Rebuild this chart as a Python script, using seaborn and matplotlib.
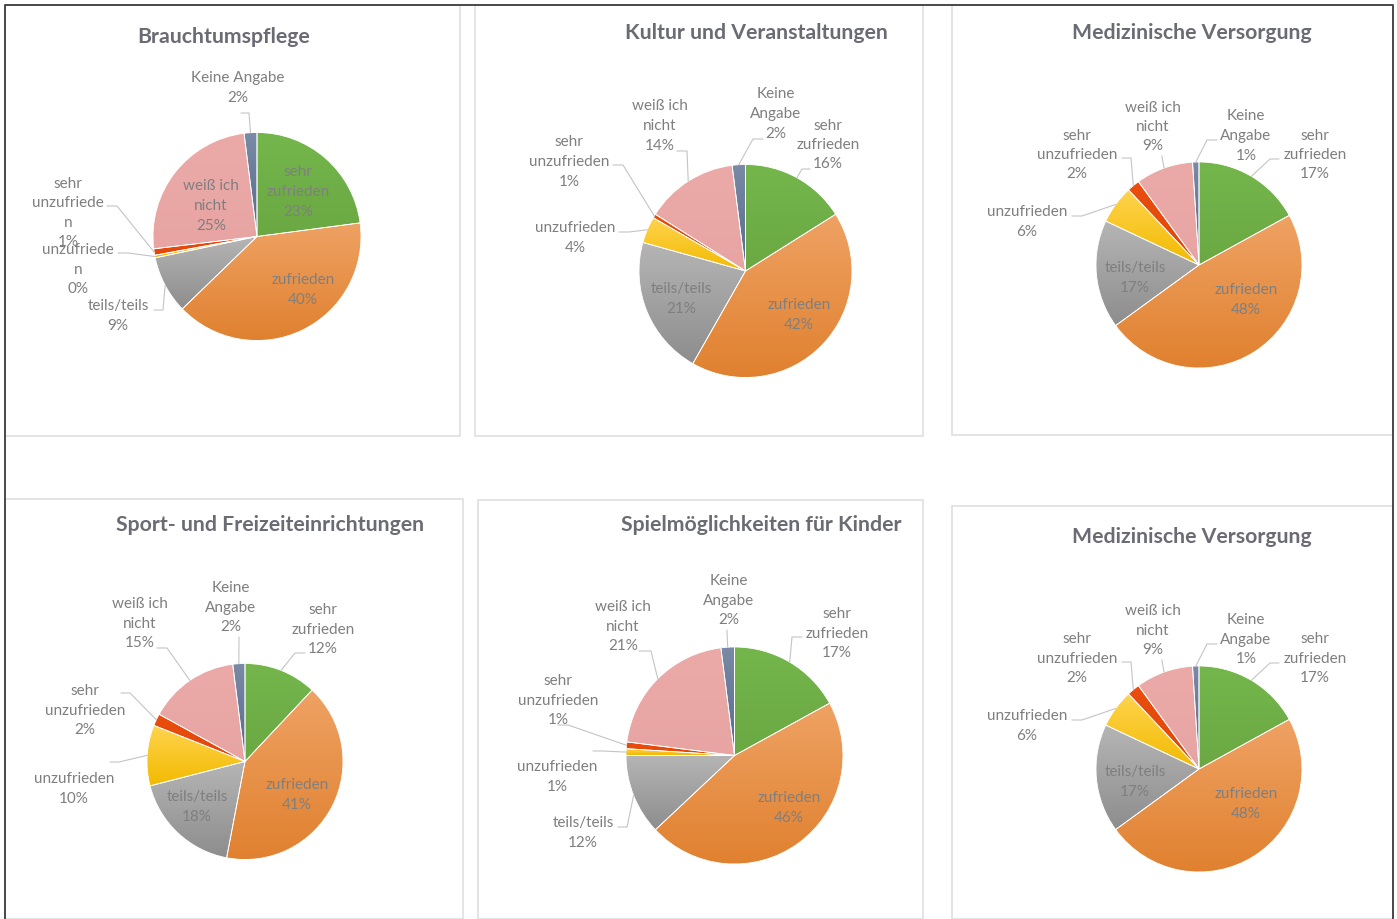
import textwrap
import numpy as np
import matplotlib.pyplot as plt
from matplotlib.patches import Rectangle
import seaborn as sns

# answer categories (same order in every chart, clockwise from 12 o'clock)
categories = ["sehr zufrieden", "zufrieden", "teils/teils", "unzufrieden",
              "sehr unzufrieden", "weiß ich nicht", "Keine Angabe"]

titles = ["Brauchtumspflege", "Kultur und Veranstaltungen", "Medizinische Versorgung",
          "Sport- und Freizeiteinrichtungen", "Spielmöglichkeiten für Kinder",
          "Medizinische Versorgung"]

# shares in percent
brauchtum = [23, 40, 9, 0.4, 1, 25, 2]
kultur = [16, 42, 21, 4, 0.6, 14, 2]
medizin = [17, 48, 17, 6, 2, 9, 1]
sport = [12, 41, 18, 10, 2, 15, 2]
spiel = [17, 46, 12, 1, 1, 21, 2]

series = [brauchtum, kultur, medizin, sport, spiel, medizin]

# excel-like gradient fills (top, bottom)
fills = [("#74B64C", "#6BA843"), ("#EFA264", "#E0812F"), ("#B5B5B5", "#8D8D8D"),
         ("#FFD44F", "#F2BA00"), ("#EA4E0E", "#E2470A"), ("#EBAAA8", "#E7A4A3"),
         ("#7A8AA6", "#556A8B")]

W, H = 1397, 920

# ---- layout in pixel coordinates (y downwards) ----
pies = [(257, 237.5, 104), (745.5, 272, 106.5), (1199, 266, 103),
        (245, 762.5, 98), (734.5, 756.5, 108.5), (1199, 770, 103)]
title_pos = [(224, 37), (756, 33), (1192, 33), (270, 525), (761, 525), (1192, 537)]
frames = [(5, 6, 460, 437), (475, 6, 923, 437), (952, 6, 1393, 436),
          (5, 500, 463, 920), (478, 501, 923, 920), (952, 507, 1393, 920)]

# per label: text x, text y, wrap width, leader (start, elbow) or None for inside
med_top = [(1315, 155, 10, [(1279, 160), (1270, 160)]),
           (1246, 300, 10, None),
           (1135, 278, 12, None),
           (1027, 222, 12, [(1072, 217), (1082, 217)]),
           (1077, 155, 12, [(1122, 159), (1131, 159)]),
           (1153, 127, 9, [(1162, 157), (1162, 158)]),
           (1246, 136, 10, [(1217, 141), (1207, 141)])]
med_bottom = [(x, y + 504, w, None if ld is None else [(a, b + 504) for a, b in ld])
              for x, y, w, ld in med_top]

labels = [
    [(298, 192, 10, None),
     (303, 290, 10, None),
     (118, 316, 12, [(154, 311), (163, 311)]),
     (78, 270, 10, [(118, 254), (128, 254)]),
     (68, 213, 10, [(107, 207), (117, 207)]),
     (211, 206, 9, None),
     (238, 88, 12, [(241, 114), (249, 114)])],
    [(828, 145, 10, [(810, 170), (802, 170)]),
     (799, 315, 10, None),
     (681, 299, 12, None),
     (575, 238, 12, [(619, 233), (629, 233)]),
     (569, 162, 12, [(613, 166), (623, 166)]),
     (660, 126, 9, [(677, 152), (687, 152)]),
     (776, 114, 10, [(763, 140), (753, 140)])],
    med_top,
    [(323, 630, 10, [(305, 654), (295, 654)]),
     (297, 795, 10, None),
     (197, 807, 12, None),
     (74, 789, 12, [(110, 763), (119, 763)]),
     (85, 711, 12, [(121, 694), (130, 694)]),
     (140, 624, 9, [(157, 649), (167, 649)]),
     (231, 608, 10, [(239, 638), (239, 639)])],
    [(837, 634, 10, [(802, 638), (792, 638)]),
     (789, 808, 10, None),
     (583, 833, 12, [(618, 828), (627, 828)]),
     (557, 777, 12, [(593, 752), (603, 752)]),
     (558, 701, 12, [(558, 726), (568, 726)]),
     (623, 627, 9, [(639, 652), (651, 652)]),
     (729, 601, 10, [(727, 631), (727, 632)])],
    med_bottom,
]


def excel_wrap(text, width):
    """wrap on spaces first, then cut words that are still too long (like excel does)"""
    lines = []
    for line in textwrap.wrap(text, width, break_long_words=False):
        while len(line) > width:
            lines.append(line[:width])
            line = line[width:]
        lines.append(line)
    return "\n".join(lines)


sns.set_theme(style="white")
plt.rcParams['font.family'] = ['Lato', 'DejaVu Sans']

LABEL_COLOR = "#7f7f7f"
TITLE_COLOR = "#6b6b74"
LEADER_COLOR = "#c4c4c8"

fig = plt.figure(figsize=(W / 100, H / 100), dpi=100)
ax = fig.add_axes([0, 0, 1, 1])

cmaps = [sns.blend_palette(list(f), as_cmap=True) for f in fills]
grad = np.linspace(0, 1, 256).reshape(-1, 1)

for values, title, (cx, cy, r), (tx, ty), lay in zip(series, titles, pies, title_pos, labels):
    # y axis is inverted, so start at -90 and go "counterclock" -> clockwise from top on screen
    wedges, _ = ax.pie(values, startangle=-90, counterclock=True, center=(cx, cy),
                       radius=r, colors=[f[0] for f in fills],
                       wedgeprops=dict(edgecolor="white", linewidth=0.6))
    for w, cmap, v, cat, (lx, ly, width, leader) in zip(wedges, cmaps, values, categories, lay):
        ext = w.get_path().get_extents()
        img = ax.imshow(grad, cmap=cmap, extent=(ext.x0, ext.x1, ext.y1, ext.y0),
                        origin="upper", aspect="auto", interpolation="bilinear", zorder=1)
        img.set_clip_path(w)
        w.set_facecolor("none")
        w.set_zorder(2)

        txt = excel_wrap(cat, width) + "\n" + f"{v:.0f}%"
        ax.text(lx, ly, txt, ha="center", va="center", multialignment="center",
                linespacing=1.5, fontsize=11, color=LABEL_COLOR, zorder=4)
        if leader is not None:
            ang = np.deg2rad((w.theta1 + w.theta2) / 2)
            px, py = cx + r * np.cos(ang), cy + r * np.sin(ang)
            (sx, sy), (ex, ey) = leader
            ax.plot([sx, ex, px], [sy, ey, py], color=LEADER_COLOR, lw=0.8, zorder=3)

    ax.text(tx, ty, title, ha="center", va="center", fontsize=15.3,
            fontweight="bold", color=TITLE_COLOR, zorder=4)

for x0, y0, x1, y1 in frames:
    ax.add_patch(Rectangle((x0, y0), x1 - x0, y1 - y0, fill=False,
                           edgecolor="#dedee4", lw=1.2, zorder=0))

# outer sheet border
ax.plot([5, 5, 1393, 1393], [H, 6, 6, H], color="#3c3c3c", lw=1.3, zorder=5)

ax.set_xlim(0, W)
ax.set_ylim(H, 0)
ax.set_aspect("auto")
ax.axis("off")

fig.savefig("out.png", dpi=100, facecolor="white")
